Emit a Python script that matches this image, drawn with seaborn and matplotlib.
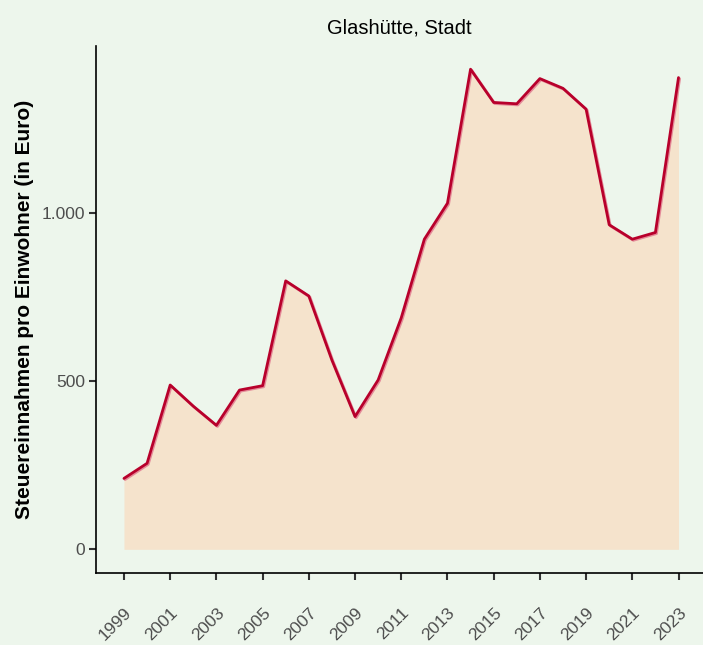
import matplotlib
matplotlib.use("Agg")
import matplotlib.pyplot as plt
import matplotlib.patheffects as pe
import seaborn as sns
import pandas as pd
import numpy as np

years = list(range(1999, 2024))
values = [211, 256, 489, 426, 369, 474, 487, 799, 754, 563, 395, 504, 689,
          923, 1030, 1429, 1330, 1326, 1401, 1372, 1310, 966, 923, 943, 1404]
title = "Glashütte, Stadt"
ylabel = "Steuereinnahmen pro Einwohner (in Euro)"
xticks = list(range(1999, 2024, 2))
yticks = [0, 500, 1000]
ytick_labels = ["0", "500", "1.000"]

df = pd.DataFrame({"Jahr": years, "Wert": values})

bg = "#EDF6EC"
sns.set_theme(style="ticks")
plt.rcParams["font.family"] = ["Liberation Sans", "DejaVu Sans"]

fig = plt.figure(figsize=(7.03, 6.45), dpi=100, facecolor=bg)
ax = fig.add_axes([96 / 703, 1 - 573 / 645, (703 - 96) / 703, (573 - 46) / 645])
ax.set_facecolor(bg)

ax.fill_between(df["Jahr"], 0, df["Wert"], color="#F5E3CC", linewidth=0, zorder=1)
sns.lineplot(data=df, x="Jahr", y="Wert", ax=ax, color="#B8002B", linewidth=2.0,
             zorder=3,
             path_effects=[pe.SimpleLineShadow(offset=(0.8, -0.8), shadow_color="#E48A98", alpha=1.0),
                           pe.Normal()])

ax.set_xlim(1997.79, 2024.06)
ax.set_ylim(-70.5, 1498)
ax.set_xticks(xticks)
ax.set_xticklabels([str(x) for x in xticks], rotation=45, ha="right",
                   rotation_mode="anchor", fontsize=12.5, color="#4D4D4D")
ax.set_yticks(yticks)
ax.set_yticklabels(ytick_labels, fontsize=12.5, color="#4D4D4D")
ax.tick_params(axis="both", length=5, width=1.5, color="#333333")
ax.tick_params(axis="x", pad=18)
ax.tick_params(axis="y", pad=3)

for s in ["top", "right"]:
    ax.spines[s].set_visible(False)
for s in ["left", "bottom"]:
    ax.spines[s].set_color("black")
    ax.spines[s].set_linewidth(1.2)

ax.set_xlabel("")
ax.set_ylabel(ylabel, fontsize=15, fontweight="bold", color="black", labelpad=5)
ax.set_title(title, fontsize=14.5, color="black", pad=9)

fig.savefig("out.png", dpi=100, facecolor=bg)
